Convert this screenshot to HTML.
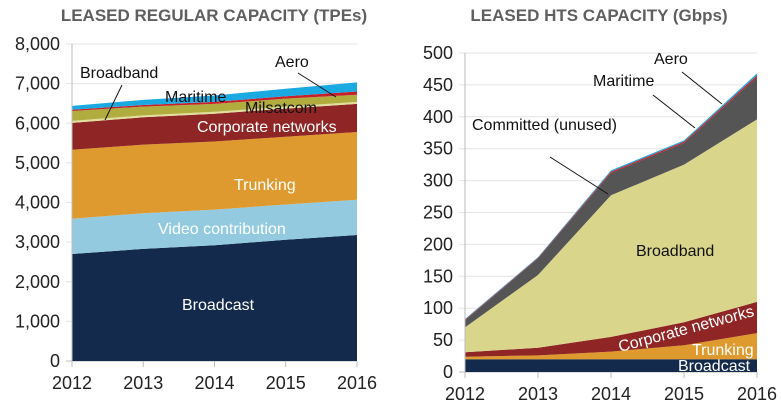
<!DOCTYPE html>
<html><head><meta charset="utf-8"><style>
body{margin:0;background:#fff;width:781px;height:408px;overflow:hidden}
svg{font-family:"Liberation Sans",sans-serif}
</style></head><body>
<svg id="c" width="781" height="408">
<text x="214" y="21" text-anchor="middle" font-size="17" font-weight="bold" fill="#5f5f5f">LEASED REGULAR CAPACITY (TPEs)</text>
<text x="599" y="21" text-anchor="middle" font-size="17" font-weight="bold" fill="#5f5f5f">LEASED HTS CAPACITY (Gbps)</text>
</svg>
<script>
const years=[2012,2013,2014,2015,2016];
// Left chart series (TPEs, per segment)
const lBroadcast=[2700,2830,2920,3060,3180];
const lVideo=[890,900,900,890,890];
const lTrunking=[1740,1730,1720,1710,1710];
const lCorporate=[680,690,700,710,710];
const lBroadband=[50,50,50,50,50];
const lMilsatcom=[250,220,200,200,180];
const lMaritime=[30,40,50,60,80];
const lAero=[100,130,160,190,230];
const lTicks=[0,1000,2000,3000,4000,5000,6000,7000,8000];
const lTickLabels=["0","1,000","2,000","3,000","4,000","5,000","6,000","7,000","8,000"];
// Right chart series (Gbps, per segment)
const rBroadcast=[20,20,20,20,20];
const rTrunking=[4,6,12,22,41];
const rCorporate=[7,12,23,36,49];
const rBroadband=[39,114,222,247,286];
const rCommitted=[11,26,35,34,66];
const rMaritime=[1,1,2,2,3];
const rAero=[1,1,2,2,3];
const rTicks=[0,50,100,150,200,250,300,350,400,450,500];

const NS="http://www.w3.org/2000/svg";
const svg=document.getElementById('c');
function mk(t,a){const e=document.createElementNS(NS,t);for(const k in a)e.setAttribute(k,a[k]);svg.appendChild(e);return e;}

function chart(cfg){
  const sx=i=>cfg.x0+(cfg.x1-cfg.x0)*i/(years.length-1);
  const sy=v=>cfg.y0-(cfg.y0-cfg.yTop)*v/cfg.max;
  cfg.ticks.forEach((t,i)=>{
    const g=mk('line',{x1:cfg.x0-6,x2:cfg.x1,y1:sy(t),y2:sy(t),stroke:i==0?'#bbb':'#e4e4e4','stroke-width':1});
    
    
    const tl=mk('text',{x:cfg.x0-12,y:sy(t)+6,'text-anchor':'end','font-size':18,fill:'#222'});
    tl.textContent=cfg.tickLabels[i];
    
    
  });
  let base=years.map(()=>0);
  cfg.series.forEach(s=>{
    const top=base.map((b,i)=>b+s.v[i]);
    let d='M'+years.map((_,i)=>sx(i)+','+sy(top[i])).join('L');
    for(let i=years.length-1;i>=0;i--)d+='L'+sx(i)+','+sy(base[i]);
    const p=mk('path',{d:d+'Z',fill:s.c});
    
    
    base=top;
  });
  const ax=mk('line',{x1:cfg.x0,x2:cfg.x0,y1:cfg.yTop,y2:cfg.y0+6,stroke:'#bbb'});
  
  
  years.forEach((y,i)=>{
    const tk=mk('line',{x1:sx(i),x2:sx(i),y1:cfg.y0,y2:cfg.y0+6,stroke:'#bbb'});
    
    
    const t=mk('text',{x:sx(i),y:cfg.y0+28,'text-anchor':'middle','font-size':18,fill:'#222'});
    t.textContent=y;
    
    
  });
}
chart({x0:72,x1:357,y0:361,yTop:44,max:8000,ticks:lTicks,tickLabels:lTickLabels,series:[
 {n:'area-broadcast',v:lBroadcast,c:'#132a4c'},
 {n:'area-video-contribution',v:lVideo,c:'#93cadf'},
 {n:'area-trunking',v:lTrunking,c:'#de9a2e'},
 {n:'area-corporate-networks',v:lCorporate,c:'#8f2525'},
 {n:'area-broadband',v:lBroadband,c:'#e2de9c'},
 {n:'area-milsatcom',v:lMilsatcom,c:'#b0ac3e'},
 {n:'area-maritime',v:lMaritime,c:'#c8202a'},
 {n:'area-aero',v:lAero,c:'#1aa9e0'}]});
chart({x0:465,x1:757,y0:372,yTop:53,max:500,ticks:rTicks,tickLabels:rTicks.map(String),series:[
 {n:'area-broadcast',v:rBroadcast,c:'#132a4c'},
 {n:'area-trunking',v:rTrunking,c:'#de9a2e'},
 {n:'area-corporate-networks',v:rCorporate,c:'#8f2525'},
 {n:'area-broadband',v:rBroadband,c:'#d9d68c'},
 {n:'area-committed',v:rCommitted,c:'#555555'},
 {n:'area-maritime',v:rMaritime,c:'#c8202a'},
 {n:'area-aero',v:rAero,c:'#1aa9e0'}]});

function lbl(x,y,txt,col,name,rot){
  const t=mk('text',{x:x,y:y,'font-size':16,fill:col});
  if(rot)t.setAttribute('transform','rotate('+rot+' '+x+' '+y+')');
  t.textContent=txt;
  
  
}
function ln(x1,y1,x2,y2,name){
  const l=mk('line',{x1,y1,x2,y2,stroke:'#111','stroke-width':1});
  
  
}
lbl(182,310,'Broadcast','#fff','label-broadcast');
lbl(158,234,'Video contribution','#fff','label-video');
lbl(234,190,'Trunking','#fff','label-trunking');
lbl(197,132,'Corporate networks','#fff','label-corporate');
lbl(245,113,'Milsatcom','#111','label-milsatcom');
lbl(165,102,'Maritime','#111','label-maritime');
lbl(80,78,'Broadband','#111','label-broadband');
lbl(275,67,'Aero','#111','label-aero');
ln(122,85,105,120,'leader-broadband');
ln(298,73,336,97,'leader-aero');
lbl(636,256,'Broadband','#111','label-broadband-hts');
lbl(472,130,'Committed (unused)','#111','label-committed');
ln(550,157,608,194,'leader-committed');
lbl(593,86,'Maritime','#111','label-maritime-hts');
lbl(654,64,'Aero','#111','label-aero-hts');
ln(653,95,695,128,'leader-maritime-hts');
ln(682,72,722,104,'leader-aero-hts');
lbl(620,352,'Corporate networks','#fff','label-corporate-hts',-15);
lbl(692,355,'Trunking','#fff','label-trunking-hts');
lbl(678,371,'Broadcast','#fff','label-broadcast-hts');
</script>
</body></html>
